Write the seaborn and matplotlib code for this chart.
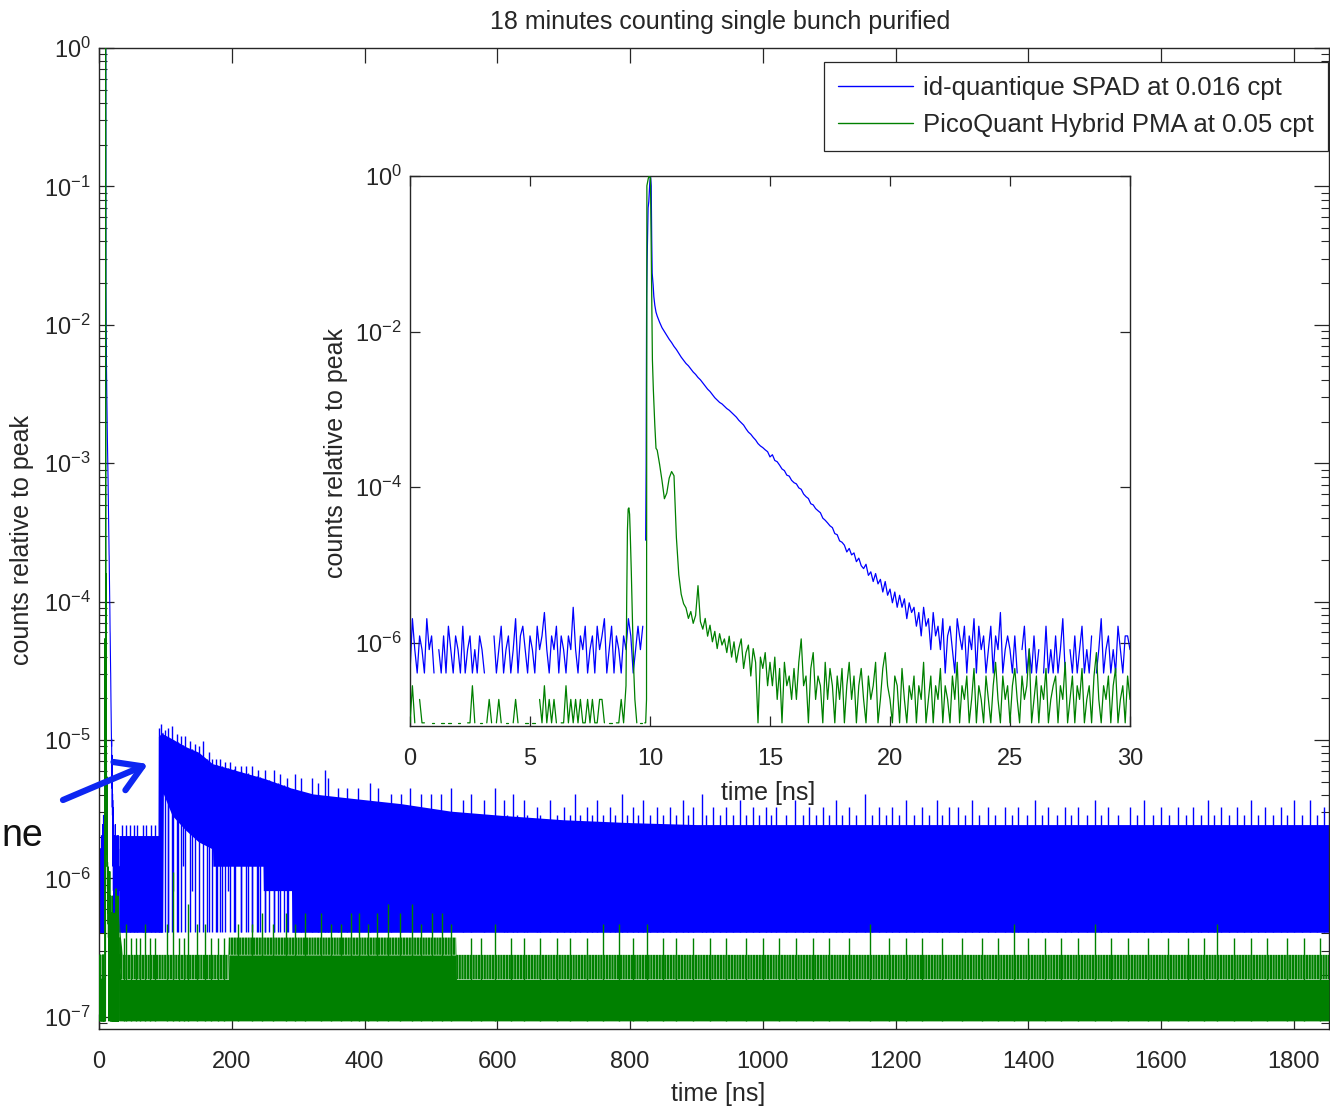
import numpy as np
import pandas as pd
import matplotlib
matplotlib.use("Agg")
import matplotlib.pyplot as plt
import seaborn as sns
from matplotlib.lines import Line2D
from matplotlib.patches import FancyArrowPatch
from matplotlib.ticker import (FixedLocator, LogLocator, NullLocator,
                               NullFormatter, LogFormatterSciNotation)

# ---------------- text ----------------
TITLE = "18 minutes counting single bunch purified"
XLABEL = "time [ns]"
YLABEL = "counts relative to peak"
LABEL_BLUE = "id-quantique SPAD at 0.016 cpt"
LABEL_GREEN = "PicoQuant Hybrid PMA at 0.05 cpt"
SIDE_NOTE = "ne"

MAIN_XTICKS = [0, 200, 400, 600, 800, 1000, 1200, 1400, 1600, 1800]
INSET_XTICKS = [0, 5, 10, 15, 20, 25, 30]
INSET_YTICKS = [1e0, 1e-2, 1e-4, 1e-6]

# ---------------- data (histogram counts) ----------------
BLUE_PEAK_COUNTS = 2.45e6
GREEN_PEAK_COUNTS = 1.07e7
BIN_NS = 0.1
POST_START_NS = 10.3

# id-quantique, 0.0 .. 9.8 ns (0.1 ns bins)
BLUE_PRE = [1, 5, 2, 1, 3, 2, 1, 5, 2, 3,
            1, 0, 2, 1, 3, 1, 4, 2, 1, 3,
            2, 1, 4, 1, 2, 3, 1, 2, 1, 3,
            2, 1, 0, 0, 0, 3, 1, 2, 4, 1,
            2, 3, 1, 2, 5, 1, 3, 4, 2, 1,
            3, 2, 1, 4, 2, 3, 6, 2, 1, 3,
            2, 4, 1, 3, 2, 1, 3, 2, 7, 2,
            1, 3, 2, 4, 1, 2, 3, 1, 4, 2,
            3, 5, 1, 2, 4, 1, 3, 2, 1, 3,
            2, 5, 3, 1, 2, 4, 2, 4, 0]
# id-quantique, peak (time ns, counts)
BLUE_PEAK = [(9.82, 51), (9.84, 480), (9.86, 69000), (9.88, 204000),
             (9.92, 953000), (9.95, 1150000), (9.99, 1940000),
             (10.02, 2450000), (10.05, 1820000), (10.07, 388000),
             (10.09, 138000), (10.13, 97500), (10.16, 69000),
             (10.20, 53500), (10.25, 43600)]
# id-quantique, 10.3 .. 30.0 ns (0.1 ns bins)
BLUE_POST = [38800, 32300, 27500, 24500, 21800, 19500, 17700, 15800, 14400, 12900,
             11500, 10450, 9530, 8900, 8110, 7400, 6900, 6300, 5880, 5360,
             4890, 4460, 4160, 3790, 3460, 3230, 3010, 2880, 2690, 2510,
             2390, 2230, 2085, 1945, 1775, 1655, 1540, 1378, 1250, 1173,
             1070, 990, 890, 830, 790, 740, 700,
             600, 640, 540, 520, 470, 420, 400, 350, 340, 300,
             280, 270, 240, 230, 200, 185, 175, 150, 145, 130,
             122, 115, 98, 92, 85, 78, 74, 62, 60, 50,
             48, 44, 36, 40, 33, 35, 27, 30, 24, 22,
             25, 18, 20, 15, 19, 14, 16, 11, 15, 10,
             12, 8, 11, 7, 10, 7, 9, 5, 8, 6,
             7, 4, 6, 3, 7, 4, 5, 2, 6, 3,
             4,
             2, 5, 1, 3, 4, 2, 1, 5, 3,
             2, 4, 1, 3, 2, 5, 1, 4, 2, 3,
             1, 2, 4, 1, 3, 2, 6, 1, 2, 3,
             2, 1, 3, 1, 0, 2, 4, 1, 2, 1,
             3, 1, 2, 0, 1, 4, 1, 2, 1, 3,
             1, 2, 5, 1, 0, 2, 1, 3, 1, 2,
             4, 1, 2, 1, 3, 0, 1, 2, 5, 1,
             2, 3, 1, 2, 1, 4, 2, 1, 3, 3,
             2]

# PicoQuant, 0.0 .. 8.8 ns (0.1 ns bins)
GREEN_PRE = [1, 3, 1, 0, 2, 1, 1, 0, 0, 1,
             1, 0, 0, 1, 1, 0, 1, 1, 0, 0,
             1, 1, 0, 0, 1, 1, 3, 1, 0, 1,
             1, 0, 1, 2, 1, 0, 1, 2, 1, 0,
             1, 1, 0, 1, 2, 1, 0, 0, 1, 1,
             0, 1, 1, 0, 2, 1, 3, 1, 2, 1,
             2, 1, 0, 1, 1, 3, 1, 2, 1, 2,
             1, 2, 1, 1, 2, 1, 2, 1, 1, 2,
             2, 1, 0, 1, 1, 0, 1, 1, 2]
# PicoQuant, pre-pulse and peak (time ns, counts)
GREEN_PEAK = [(8.9, 1), (9.0, 3), (9.03, 40), (9.06, 300), (9.09, 560),
              (9.12, 580), (9.15, 480), (9.18, 250), (9.22, 90), (9.27, 20),
              (9.32, 5), (9.37, 2), (9.45, 1), (9.5, 0), (9.6, 1), (9.65, 1),
              (9.7, 0), (9.78, 1), (9.82, 1), (9.855, 2), (9.87, 8000000),
              (9.93, 10000000), (9.97, 10700000), (10.02, 10000000),
              (10.06, 600000), (10.1, 46700), (10.14, 19000), (10.2, 6750),
              (10.25, 3380)]
# PicoQuant, 10.3 .. 30.0 ns (0.1 ns bins)
GREEN_POST = [3200, 2100, 1300, 760, 900, 1400, 1700, 1500, 240, 80,
              45, 34, 30, 22, 27, 19, 24, 58, 20, 16,
              22, 13, 18, 11, 15, 9, 14, 10, 12, 8,
              13, 7, 11, 6, 9, 12, 5, 8, 10, 4,
              9, 6, 1, 7, 5, 8, 3, 6,
              3, 7, 2, 5, 1, 6, 3, 4, 2,
              5, 2, 6, 12, 3, 4, 1, 5, 8, 2,
              4, 3, 1, 6, 2, 5, 3, 1, 4, 2,
              5, 1, 3, 6, 2, 4, 1, 3, 5, 2,
              1, 4, 2, 3, 6, 1, 2, 5, 8, 3,
              2, 1, 4, 3, 1, 5, 2, 1, 3, 2,
              4, 1, 3, 2, 6, 1, 2, 4, 1, 3,
              2, 5, 1, 3, 2, 1, 4, 2, 6, 1,
              3, 2, 4, 1, 2, 5, 1, 3, 2, 1,
              4, 2, 1, 3, 6, 2, 1, 4, 2, 3,
              1, 3, 5, 2, 1, 4, 2, 3, 9, 1,
              2, 4, 1, 3, 2, 5, 1, 2, 3, 4,
              1, 3, 2, 6, 1, 2, 4, 1, 3, 2,
              5, 1, 2, 3, 1, 4, 8, 2, 1, 3,
              2, 4, 1, 3, 5, 1, 2, 3, 1, 4,
              2]

# long-range view (t > 30 ns): per-time min / max counts of the dense histogram
BLUE_BAND_T = [30, 89, 89.5, 96, 97, 110, 130, 150, 171, 171.5, 247, 247.5,
               290, 290.5, 322, 380, 455, 530, 606, 700, 800, 900, 1853]
BLUE_BAND_LO = [1, 1, 1, 1, 10, 7, 5.5, 4.5, 4, 3, 3, 2,
                2, 1, 1, 1, 1, 1, 1, 1, 1, 1, 1]
BLUE_BAND_HI = [5, 5, 26, 28, 27, 25, 22, 20, 16.5, 16.5, 13, 13,
                11, 11, 10, 9.3, 8.5, 7.5, 7, 6.5, 6.2, 6, 6]
BLUE_SPIKES = [(34, 6), (41, 6), (47, 6), (53, 6), (58, 6), (66, 6), (71, 6), (78, 6), (84, 6),
               (91, 30), (94, 32), (100, 29), (104, 30), (110, 31), (117, 27), (123, 26),
               (130, 26), (137, 24), (145, 23), (151, 22), (157, 24), (165, 20), (170, 18),
               (176, 18), (183, 18), (190, 17), (198, 17), (205, 16), (214, 16), (222, 16),
               (231, 16), (240, 15), (250, 15), (263, 15), (272, 14), (283, 13), (296, 14),
               (305, 13), (321, 13), (330, 12), (340, 15), (345, 13), (360, 11), (374, 11),
               (390, 11), (408, 12), (421, 11), (440, 10), (455, 10), (469, 11), (485, 10),
               (500, 10), (515, 10), (531, 11), (548, 9), (560, 10), (580, 9), (597, 11),
               (610, 9), (624, 10), (640, 9), (660, 8), (680, 9), (700, 8), (717, 10),
               (735, 8), (750, 9), (770, 8), (788, 10), (805, 8), (820, 9), (840, 8),
               (860, 8), (880, 9), (895, 8), (908, 10), (925, 8), (945, 8), (965, 9),
               (985, 8), (1005, 8), (1020, 8), (1049, 9), (1070, 8), (1090, 8), (1110, 9),
               (1130, 8), (1154, 10), (1175, 8), (1195, 8), (1215, 9), (1240, 8), (1262, 9),
               (1280, 8), (1294, 8), (1315, 9), (1340, 8), (1365, 8), (1385, 8), (1410, 9),
               (1430, 8), (1455, 8), (1475, 8), (1500, 9), (1520, 8), (1553, 8), (1575, 9),
               (1600, 8), (1625, 8), (1648, 8), (1670, 9), (1690, 8), (1715, 8), (1735, 9),
               (1757, 8), (1780, 8), (1800, 9), (1824, 9), (1845, 8),
               (615, 7), (630, 7), (645, 7), (665, 7), (690, 7), (710, 7), (725, 7),
               (742, 7), (760, 7), (778, 7), (795, 7), (812, 7), (830, 7), (850, 7),
               (870, 7), (888, 7), (915, 7), (935, 7), (955, 7), (975, 7), (995, 7),
               (1012, 7), (1035, 7), (1060, 7), (1080, 7), (1100, 7), (1120, 7), (1140, 7),
               (1165, 7), (1185, 7), (1205, 7), (1228, 7), (1250, 7), (1270, 7), (1305, 7),
               (1325, 7), (1350, 7), (1375, 7), (1398, 7), (1420, 7), (1443, 7), (1465, 7),
               (1488, 7), (1510, 7), (1535, 7), (1563, 7), (1588, 7), (1612, 7), (1637, 7),
               (1660, 7), (1680, 7), (1702, 7), (1725, 7), (1746, 7), (1768, 7), (1790, 7),
               (1812, 7), (1835, 7)]
BLUE_DROPS = [(104, 1), (112, 2), (119, 1), (127, 3), (140, 2), (163, 1), (178, 1),
              (186, 1), (194, 2), (203, 1), (214, 1), (224, 1), (231, 1), (238, 1),
              (243, 1), (250, 1), (256, 1), (264, 1), (270, 1), (279, 1), (285, 1)]

GREEN_BAND_T = [30, 33, 36, 195, 195.5, 538, 538.5, 1853]
GREEN_SOLID = [3, 2, 2, 2, 3, 3, 2, 2]
GREEN_STRIPED = [6, 4, 3, 3, 4, 4, 3, 3]
GREEN_SPIKES = [(37, 4), (41, 5), (48, 4), (55, 4), (62, 4), (70, 5), (77, 4), (84, 4),
                (102, 5), (112, 12), (120, 4), (128, 4), (134, 7), (147, 5), (160, 5),
                (168, 4), (180, 4), (188, 4),
                (210, 5), (230, 5), (246, 6), (262, 5), (281, 6), (295, 5), (310, 6),
                (334, 6), (350, 5), (365, 5), (379, 6), (391, 6), (405, 5), (419, 6),
                (436, 7), (454, 6), (471, 7), (485, 5), (502, 6), (517, 6), (530, 5),
                (560, 4), (575, 4), (597, 5), (620, 4), (640, 4), (665, 4), (690, 4),
                (710, 4), (735, 4), (760, 5), (783, 5), (805, 4), (826, 5), (850, 4),
                (870, 4), (895, 4), (920, 4), (945, 4), (975, 4), (1000, 4), (1025, 4),
                (1050, 4), (1075, 4), (1100, 4), (1130, 4), (1162, 5), (1190, 4),
                (1215, 4), (1240, 4), (1270, 4), (1300, 4), (1330, 4), (1355, 4),
                (1378, 5), (1400, 4), (1425, 4), (1450, 4), (1475, 4), (1501, 5),
                (1525, 4), (1550, 4), (1580, 4), (1610, 4), (1640, 4), (1665, 4),
                (1685, 5), (1710, 4), (1735, 4), (1760, 4), (1790, 4), (1815, 4), (1840, 4)]

# ---------------- style ----------------
sns.set_theme(style="ticks")
plt.rcParams["font.family"] = ["Liberation Sans", "DejaVu Sans"]
plt.rcParams["mathtext.fontset"] = "custom"
plt.rcParams["mathtext.rm"] = "Liberation Sans"
plt.rcParams["mathtext.it"] = "Liberation Sans:italic"
plt.rcParams["mathtext.bf"] = "Liberation Sans:bold"
plt.rcParams["hatch.linewidth"] = 1.7
plt.rcParams["axes.linewidth"] = 1.0
plt.rcParams["axes.edgecolor"] = "#262626"
plt.rcParams["xtick.color"] = "#262626"
plt.rcParams["ytick.color"] = "#262626"

BLUE = (0.0, 0.0, 1.0)
GREEN = (0.0, 0.5, 0.0)
ARROW_BLUE = (0.05, 0.15, 0.95)


def series_frame(times, counts, peak):
    t = np.asarray(times, float)
    c = np.asarray(counts, float)
    keep = c > 0
    seg = np.cumsum(~keep)
    return pd.DataFrame({"t": t[keep], "rel": c[keep] / peak, "seg": seg[keep]})


blue_t = np.concatenate([BIN_NS * np.arange(len(BLUE_PRE)),
                         [p[0] for p in BLUE_PEAK],
                         POST_START_NS + BIN_NS * np.arange(len(BLUE_POST))])
blue_c = np.concatenate([BLUE_PRE, [p[1] for p in BLUE_PEAK], BLUE_POST])
green_t = np.concatenate([BIN_NS * np.arange(len(GREEN_PRE)),
                          [p[0] for p in GREEN_PEAK],
                          POST_START_NS + BIN_NS * np.arange(len(GREEN_POST))])
green_c = np.concatenate([GREEN_PRE, [p[1] for p in GREEN_PEAK], GREEN_POST])

blue_df = series_frame(blue_t, blue_c, BLUE_PEAK_COUNTS)
green_df = series_frame(green_t, green_c, GREEN_PEAK_COUNTS)


def draw_series(ax, df, color, lw, z):
    sns.lineplot(data=df, x="t", y="rel", units="seg", estimator=None, sort=False,
                 color=color, lw=lw, ax=ax, legend=False, zorder=z)


W, H = 1330, 1112
fig = plt.figure(figsize=(W / 100, H / 100), dpi=100)
fig.patch.set_facecolor("white")

# ---------------- main axes ----------------
ax = fig.add_axes([99 / W, 1 - 1029 / H, 1230 / W, 981 / H])
ax.set_yscale("log")
ax.set_facecolor("white")

draw_series(ax, blue_df, BLUE, 0.8, 2)
bt = np.asarray(BLUE_BAND_T, float)
blo = np.asarray(BLUE_BAND_LO, float)
bhi = np.asarray(BLUE_BAND_HI, float)
ax.fill_between(bt, blo / BLUE_PEAK_COUNTS, bhi / BLUE_PEAK_COUNTS,
                color=BLUE, lw=0, zorder=2)
st = np.array([s[0] for s in BLUE_SPIKES], float)
sc = np.array([s[1] for s in BLUE_SPIKES], float)
ax.vlines(st, 1 / BLUE_PEAK_COUNTS, sc / BLUE_PEAK_COUNTS, colors=[BLUE], lw=1.0, zorder=2)
dt = np.array([d[0] for d in BLUE_DROPS], float)
dc = np.array([d[1] for d in BLUE_DROPS], float)
ax.vlines(dt, dc / BLUE_PEAK_COUNTS, np.interp(dt, bt, bhi) / BLUE_PEAK_COUNTS,
          colors=[BLUE], lw=1.0, zorder=2)

draw_series(ax, green_df, GREEN, 0.8, 3)
gt = np.asarray(GREEN_BAND_T, float)
gso = np.asarray(GREEN_SOLID, float)
gst = np.asarray(GREEN_STRIPED, float)
ax.fill_between(gt, 1 / GREEN_PEAK_COUNTS, gso / GREEN_PEAK_COUNTS,
                color=GREEN, lw=0, zorder=3)
ax.fill_between(gt, gso / GREEN_PEAK_COUNTS, gst / GREEN_PEAK_COUNTS,
                facecolor="none", edgecolor=GREEN, hatch="||||||", lw=0, zorder=3)
gpt = np.array([s[0] for s in GREEN_SPIKES], float)
gpc = np.array([s[1] for s in GREEN_SPIKES], float)
ax.vlines(gpt, 1 / GREEN_PEAK_COUNTS, gpc / GREEN_PEAK_COUNTS, colors=[GREEN], lw=1.0, zorder=3)

ax.set_xlim(0, 1853)
ax.set_ylim(10 ** -7.088, 1.0)
ax.xaxis.set_major_locator(FixedLocator(MAIN_XTICKS))
ax.xaxis.set_minor_locator(NullLocator())
ax.yaxis.set_major_locator(LogLocator(base=10, numticks=20))
ax.yaxis.set_major_formatter(LogFormatterSciNotation())
ax.yaxis.set_minor_locator(LogLocator(base=10, subs=np.arange(2, 10), numticks=20))
ax.yaxis.set_minor_formatter(NullFormatter())
ax.tick_params(which="both", direction="in", top=True, right=True)
ax.tick_params(which="major", length=11, width=0.9)
ax.tick_params(which="minor", length=6, width=0.8)
ax.tick_params(axis="x", labelsize=17, pad=16)
ax.tick_params(axis="y", labelsize=17, pad=6)
for s in ax.spines.values():
    s.set_visible(True)

ax.set_xlabel(XLABEL, fontsize=18)
ax.set_ylabel(YLABEL, fontsize=18)
ax.xaxis.set_label_coords(0.503, -0.054)
ax.yaxis.set_label_coords(-0.053, 0.4985)
ax.set_title(TITLE, fontsize=18, pad=14, x=0.505)

handles = [Line2D([], [], color=BLUE, lw=1.0, label=LABEL_BLUE),
           Line2D([], [], color=GREEN, lw=1.0, label=LABEL_GREEN)]
leg = ax.legend(handles=handles, loc="upper right", bbox_to_anchor=(0.9992, 0.9857),
                borderaxespad=0, fontsize=18.5, handlelength=2.9, handletextpad=0.4,
                borderpad=0.55, labelspacing=0.5, frameon=True, fancybox=False,
                framealpha=1, edgecolor="#262626")
leg.get_frame().set_linewidth(0.9)
leg.set_zorder(10)

# ---------------- inset ----------------
axi = fig.add_axes([410 / W, 1 - 726 / H, 720 / W, 550 / H])
axi.set_zorder(5)
axi.set_facecolor("white")
axi.set_yscale("log")
draw_series(axi, blue_df, BLUE, 0.9, 2)
draw_series(axi, green_df, GREEN, 0.9, 3)
axi.set_xlim(0, 30)
axi.set_ylim(10 ** -7.07, 1.0)
axi.xaxis.set_major_locator(FixedLocator(INSET_XTICKS))
axi.xaxis.set_minor_locator(NullLocator())
axi.yaxis.set_major_locator(FixedLocator(INSET_YTICKS))
axi.yaxis.set_major_formatter(LogFormatterSciNotation())
axi.yaxis.set_minor_locator(NullLocator())
axi.tick_params(which="both", direction="in", top=True, right=True, length=7, width=0.9)
axi.tick_params(axis="x", labelsize=17, pad=16)
axi.tick_params(axis="y", labelsize=17, pad=6)
for s in axi.spines.values():
    s.set_visible(True)
axi.set_xlabel(XLABEL, fontsize=18)
axi.set_ylabel(YLABEL, fontsize=18)
axi.xaxis.set_label_coords(0.497, -0.1)
axi.yaxis.set_label_coords(-0.086, 0.4955)

# ---------------- annotation ----------------
arrow = FancyArrowPatch((63 / W, 1 - 800 / H), (148 / W, 1 - 764 / H),
                        transform=fig.transFigure,
                        arrowstyle="->,head_length=0.9,head_width=0.55",
                        lw=4.5, color=ARROW_BLUE, mutation_scale=20,
                        shrinkA=0, shrinkB=0, zorder=12)
fig.add_artist(arrow)
fig.text(1 / W, 1 - 846 / H, SIDE_NOTE, fontsize=27, ha="left", va="baseline",
         color="#111111")

fig.savefig("out.png", dpi=100)
